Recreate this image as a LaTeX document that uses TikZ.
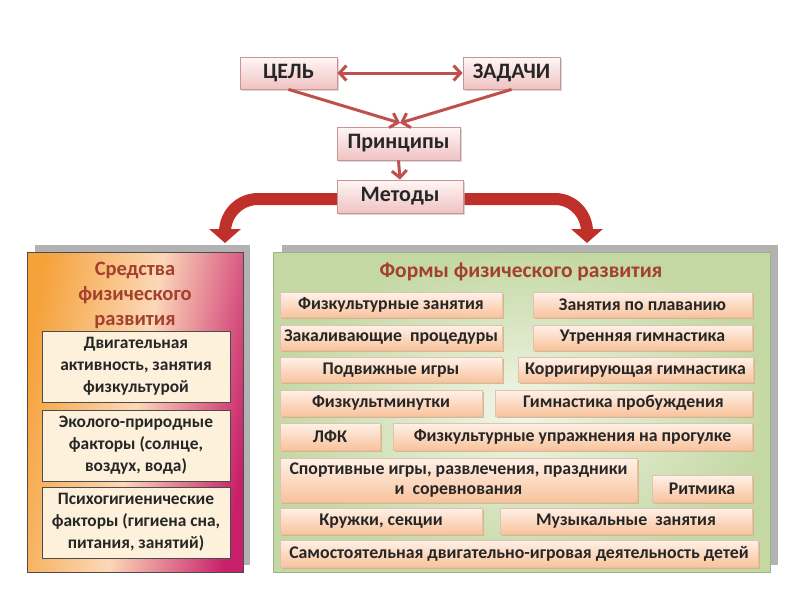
\documentclass[tikz,border=0pt]{standalone}
\usepackage{fontspec}
\setmainfont{Carlito}
\usetikzlibrary{arrows.meta,shadows}
\definecolor{arr}{HTML}{C0504D}
\definecolor{bigarr}{HTML}{C0302B}
\definecolor{bigarrL}{HTML}{D9534F}
\definecolor{ttl}{HTML}{A3402E}
\definecolor{topA}{HTML}{FFF6F6}
\definecolor{topB}{HTML}{F0C2C2}
\definecolor{topBorder}{HTML}{C99494}
\definecolor{cream}{HTML}{FDF1DC}
\definecolor{pA}{HTML}{FFF1E8}
\definecolor{pB}{HTML}{F8C39C}
\definecolor{pShadow}{HTML}{E6A778}
\definecolor{gA}{HTML}{F2F6E8}
\definecolor{gB}{HTML}{C4D8A4}
\definecolor{gBorder}{HTML}{9FB08A}
\definecolor{lOr}{HTML}{F5A23A}
\definecolor{lMid}{HTML}{FCD8B8}
\definecolor{lMag}{HTML}{C8206A}
\tikzset{
  topbox/.style={draw=topBorder, line width=0.8pt, top color=topA, bottom color=topB,
    font=\fontsize{22}{24}\selectfont\bfseries, text=black!85, inner sep=0pt,
    drop shadow={shadow xshift=1.5pt, shadow yshift=-1.5pt, fill=black!25, opacity=0.6}},
  thin arrow/.style={draw=arr, line width=3pt, -{Straight Barb[length=7pt,width=15pt]}},
  dbl arrow/.style={draw=arr, line width=3pt, {Straight Barb[length=7pt,width=15pt]}-{Straight Barb[length=7pt,width=15pt]}},
  bigarrow/.style={draw=bigarr, line width=12pt, -{Triangle[length=14pt,width=31pt]}},
  leftbox/.style={draw=black!70, line width=0.8pt, fill=cream, align=center,
    font=\fontsize{17.4}{22}\selectfont\bfseries, text=black!85, inner sep=0pt,
    minimum width=188pt, minimum height=71pt},
  formbox/.style={draw=pB!80!black!60, line width=0.4pt, top color=pA, bottom color=pB,
    font=\fontsize{17.8}{20}\selectfont\bfseries, text=black!85, inner sep=0pt, align=center,
    drop shadow={shadow xshift=1.8pt, shadow yshift=-1.8pt, fill=pShadow, opacity=0.8}},
  title/.style={text=ttl, font=\fontsize{20.5}{25}\selectfont\bfseries, align=center},
}
\begin{document}
\begin{tikzpicture}[x=1pt,y=-1pt]
\useasboundingbox[fill=white] (0,0) rectangle (800,600);

% ---------- left panel ----------
\fill[black!30] (35,245) rectangle (250,565);
\shade[left color=lOr, right color=lMag, middle color=lMid, shading angle=80] (27,252) rectangle (243,572);
\draw[black!70, line width=0.8pt] (27,252) rectangle (243,572);
\node[title] (ltitle) at (135,295) {Средства\\физического\\развития};
\node[leftbox] (l1) at (136,366.5) {Двигательная\\активность, занятия\\физкультурой};
\node[leftbox] (l2) at (136,445.5) {Эколого-природные\\факторы (солнце,\\воздух, вода)};
\node[leftbox] (l3) at (136,522.5) {Психогигиенические\\факторы (гигиена сна,\\питания, занятий)};

% ---------- right panel ----------
\fill[black!30] (282,245) rectangle (778,565);
\shade[inner color=gA, outer color=gB] (273,252) rectangle (770,572);
\draw[gBorder, line width=0.8pt] (273,252) rectangle (770,572);
\node[title, font=\fontsize{21.5}{25}\selectfont\bfseries] (rtitle) at (521,272) {Формы физического развития};

\node[formbox, minimum width=222pt, minimum height=25pt] (r1a) at (391,305) {Физкультурные занятия};
\node[formbox, minimum width=219pt, minimum height=25pt] (r1b) at (642.5,305) {Занятия по плаванию};
\node[formbox, minimum width=222pt, minimum height=25pt] (r2a) at (391,337.5) {Закаливающие\ \ процедуры};
\node[formbox, minimum width=219pt, minimum height=25pt] (r2b) at (642.5,337.5) {Утренняя гимнастика};
\node[formbox, minimum width=222pt, minimum height=25pt] (r3a) at (391,370) {Подвижные игры};
\node[formbox, minimum width=235pt, minimum height=25pt] (r3b) at (635.5,370) {Корригирующая гимнастика};
\node[formbox, minimum width=202pt, minimum height=26pt] (r4a) at (381,403) {Физкультминутки};
\node[formbox, minimum width=257pt, minimum height=26pt] (r4b) at (623.5,403) {Гимнастика пробуждения};
\node[formbox, minimum width=100pt, minimum height=27pt] (r5a) at (330,436.5) {ЛФК};
\node[formbox, minimum width=359pt, minimum height=27pt] (r5b) at (572.5,436.5) {Физкультурные упражнения на прогулке};
\node[formbox, minimum width=357pt, minimum height=44pt] (r6a) at (458.5,480) {Спортивные игры, развлечения, праздники\\и\ \ соревнования};
\node[formbox, minimum width=100pt, minimum height=27pt] (r6b) at (702,488.5) {Ритмика};
\node[formbox, minimum width=202pt, minimum height=26pt] (r7a) at (381,521) {Кружки, секции};
\node[formbox, minimum width=252pt, minimum height=26pt] (r7b) at (626,521) {Музыкальные\ \ занятия};
\node[formbox, minimum width=478pt, minimum height=27pt] (r8) at (519,553.5) {Самостоятельная двигательно-игровая деятельность детей};

% ---------- top ----------
\node[topbox, minimum width=97pt, minimum height=32pt] (goal) at (288.5,73) {ЦЕЛЬ};
\node[topbox, minimum width=97pt, minimum height=32pt] (tasks) at (511.5,73) {ЗАДАЧИ};
\node[topbox, minimum width=123pt, minimum height=33pt] (princ) at (398.5,143.5) {Принципы};

\draw[bigarrow] (337,199) -- (258,199) to[out=180,in=90] (225,232) -- (225,243);
\draw[bigarrow] (463,199) -- (555,199) to[out=0,in=90] (587,232) -- (587,243);

\node[topbox, minimum width=126pt, minimum height=33pt] (meth) at (400,196.5) {Методы};

\coordinate (pin) at (400,123);
\draw[dbl arrow] (goal.east) -- (tasks.west);
\draw[thin arrow] (goal.south) -- (pin);
\draw[thin arrow] (tasks.south) -- (pin);
\draw[thin arrow] (princ.south) -- (meth.north);
\end{tikzpicture}
\end{document}
